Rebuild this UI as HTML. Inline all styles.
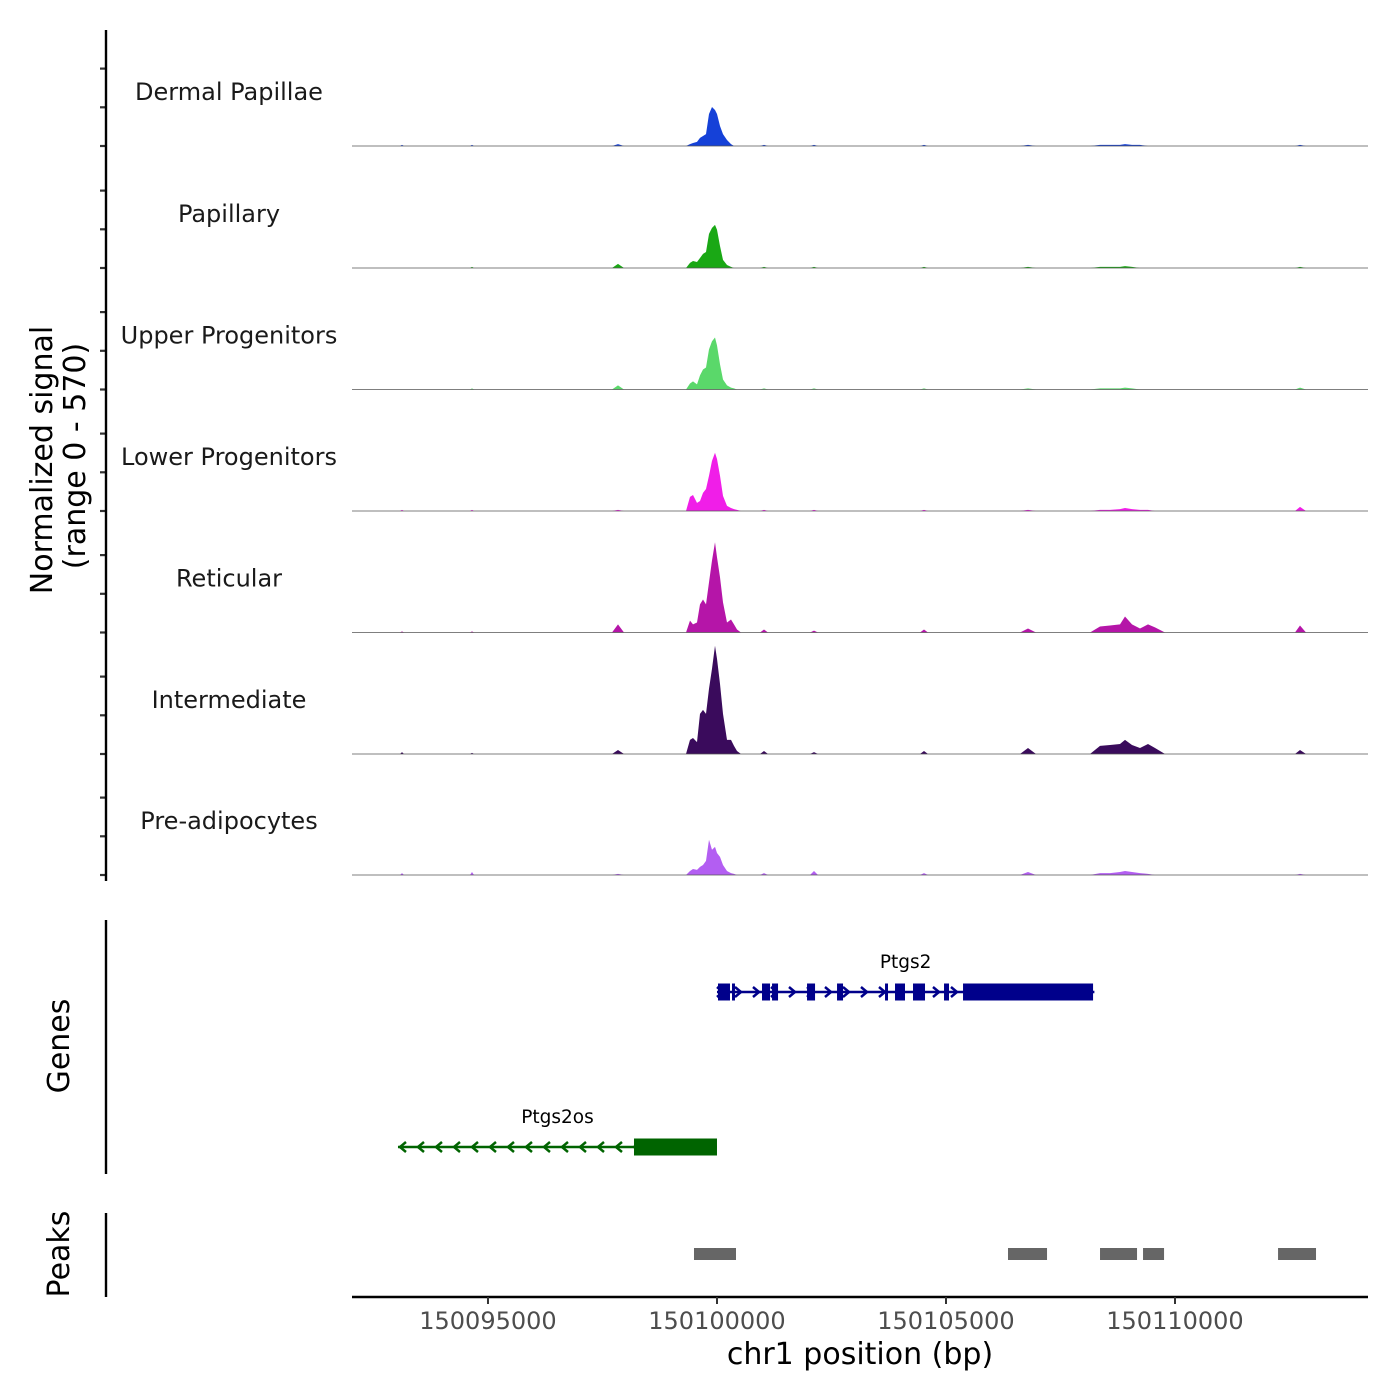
<!DOCTYPE html>
<html><head><meta charset="utf-8">
<style>
body{margin:0;background:#fff;}
svg{display:block;font-family:"DejaVu Sans","Liberation Sans",sans-serif;}
</style></head>
<body>
<svg id="chart" width="1400" height="1400" viewBox="0 0 1400 1400" xmlns="http://www.w3.org/2000/svg">
<rect width="1400" height="1400" fill="#fff"/>
<g id="tracks"></g>
<g id="genes"></g>
<g id="peaks"></g>
<g id="axes"></g>
</svg>
<script>
const trackNames = ["Dermal Papillae","Papillary","Upper Progenitors","Lower Progenitors","Reticular","Intermediate","Pre-adipocytes"];
const trackColors = ["#1541d8","#1aa815","#5ad86a","#f01ee8","#b515a8","#3a0b5c","#b35ef2"];
const positions = [150093080,150093122,150093166, 150094607,150094651,150094695, 150097708,150097839,150097970,
 150099324,150099411,150099476,150099564,150099629,150099695,150099760,150099826,150099891,150099957,150100001,150100066,150100131,150100219,150100306,150100372,150100437,150100524,
 150100939,150101027,150101114, 150102031,150102118,150102206, 150104433,150104520,150104607, 150106616,150106791,150106966,
 150108144,150108363,150108581,150108799,150108909,150109062,150109236,150109411,150109564,150109782,
 150112620,150112730,150112861,150113166];
const dermalValues = [0,5,0, 0,5,0, 0,9,0, 0,9,14,19,38,47,56,150,183,169,150,94,56,28,9,0,0,0, 0,5,0, 0,5,0, 0,5,0, 0,5,0, 0,5,5,5,9,5,5,0,0,0, 0,5,0,0];
const papillaryValues = [0,0,0, 0,5,0, 0,19,0, 0,24,33,28,47,66,75,160,188,202,179,103,38,14,5,0,0,0, 0,5,0, 0,5,0, 0,5,0, 0,5,0, 0,5,5,5,9,5,0,0,0,0, 0,5,0,0];
const upperValues = [0,0,0, 0,5,0, 0,19,0, 0,28,38,24,66,94,103,188,226,244,207,118,47,19,9,5,0,0, 0,5,0, 0,5,0, 0,5,0, 0,5,0, 0,5,5,5,9,5,0,0,0,0, 0,9,0,0];
const lowerValues = [0,5,0, 0,5,0, 0,5,0, 0,66,75,38,47,85,103,165,235,273,244,165,71,24,14,9,5,0, 0,5,0, 0,5,0, 0,5,0, 0,5,0, 0,5,5,9,14,9,5,5,0,0, 0,19,0,0];
const reticularValues = [0,5,0, 0,5,0, 0,38,0, 0,56,38,47,132,155,132,235,338,423,353,259,141,47,61,38,14,0, 0,14,0, 0,9,0, 0,14,0, 0,19,0, 0,28,33,38,75,38,19,38,24,0, 0,33,0,0];
const intermediateValues = [0,9,0, 0,5,0, 0,19,0, 0,66,75,56,188,207,188,306,400,508,447,329,188,66,66,38,14,0, 0,14,0, 0,9,0, 0,14,0, 0,28,0, 0,38,42,47,66,42,28,47,28,0, 0,19,0,0];
const preadipValues = [0,9,0, 0,14,0, 0,5,0, 0,19,28,24,38,47,66,165,118,132,103,85,47,19,9,5,0,0, 0,9,0, 0,19,0, 0,9,0, 0,14,0, 0,9,9,14,19,14,9,5,0,0, 0,5,0,0];
const seriesValues = [dermalValues,papillaryValues,upperValues,lowerValues,reticularValues,intermediateValues,preadipValues];
const xTicks = [150095000,150100000,150105000,150110000];
const ptgs2Exons = [[150100022,150100284],[150100328,150100393],[150100983,150101158],[150101202,150101333],[150101966,150102141],[150102621,150102752],[150103669,150103734],[150103887,150104105],[150104280,150104542],[150104957,150105066],[150105372,150108211]];
const ptgs2Span = [150100000,150108240];
const ptgs2osSpan = [150093035,150100000];
const ptgs2osExons = [[150098188,150100000]];
const peakStarts = [150099498,150106354,150108363,150109302,150112250];
const peakEnds = [150100415,150107206,150109171,150109761,150113079];

const NS="http://www.w3.org/2000/svg";
const X0=352,X1=1368,D0=150092031,D1=150114214;
const xs = v => X0 + (v-D0)/(D1-D0)*(X1-X0);
const TH=121.5, YMAX=570;
const baselines=[146,268,389.5,511,632.5,754,875];
const ys = (v,b) => b - v/YMAX*TH;
function el(tag,attrs,parent,text){const e=document.createElementNS(NS,tag);for(const k in attrs)e.setAttribute(k,attrs[k]);if(text!==undefined)e.textContent=text;parent.appendChild(e);return e;}

const gT=document.getElementById('tracks');
seriesValues.forEach((vals,i)=>{
  const b=baselines[i];
  let d="M"+xs(positions[0])+","+b;
  vals.forEach((v,j)=>{d+=" L"+xs(positions[j]).toFixed(1)+","+ys(v,b).toFixed(1);});
  d+=" L"+xs(positions[positions.length-1])+","+b+" Z";
  const p=el('path',{d:d,fill:trackColors[i]},gT);
  
  
  const l=el('line',{x1:X0,x2:X1,y1:b,y2:b,stroke:'#555','stroke-width':0.8},gT);
  
  
  const t=el('text',{x:229,y:b-46,'text-anchor':'middle','font-size':24,fill:'#1a1a1a'},gT,trackNames[i]);
  
  
  [0,38.7,77.4].forEach(o=>{
    const tk=el('line',{x1:100,x2:106,y1:b-o,y2:b-o,stroke:'#333','stroke-width':2.2},gT);
    
    
  });
});

const gA=document.getElementById('axes');
function ln(x1,y1,x2,y2,name,w,c){const l=el('line',{x1,y1,x2,y2,stroke:c||'#000','stroke-width':w||2.4},gA);return l;}
ln(106,30,106,881,'signal-y-axis');
ln(106,920,106,1174,'genes-y-axis');
ln(106,1213,106,1297,'peaks-y-axis');
ln(352,1297,1368,1297,'x-axis');
xTicks.forEach(v=>{
  const x=xs(v);
  ln(x,1297,x,1304,'x-tick',2,'#333');
  const t=el('text',{x:x,y:1329,'text-anchor':'middle','font-size':24,fill:'#4d4d4d'},gA,String(v));
  
  
});
function txt(x,y,s,size,name,rot){const a={x,y,'text-anchor':'middle','font-size':size,fill:'#000'};if(rot)a.transform='rotate(-90 '+x+' '+y+')';const t=el('text',a,gA,s);}
txt(860,1364,'chr1 position (bp)',30,'x-axis-title');
txt(52,460,'Normalized signal',30,'y-axis-title',true);
txt(85,456,'(range 0 - 570)',30,'y-axis-subtitle',true);
txt(69,1046,'Genes',30,'genes-axis-title',true);
txt(69,1254,'Peaks',30,'peaks-axis-title',true);

const gG=document.getElementById('genes');
function drawGene(span,exons,y,color,dir,label,name){
  const g=el('g',{},gG);
  el('line',{x1:xs(span[0]),x2:xs(span[1]),y1:y,y2:y,stroke:color,'stroke-width':2.5},g);
  exons.forEach(e=>{el('rect',{x:xs(e[0]),y:y-8.5,width:Math.max(2,xs(e[1])-xs(e[0])),height:17,fill:color},g);});
  for(let x=xs(span[0])+4;x<xs(span[1])-2;x+=18){
    el('path',{d:dir>0?`M${x-4},${y-5} L${x+2},${y} L${x-4},${y+5}`:`M${x+4},${y-5} L${x-2},${y} L${x+4},${y+5}`,stroke:color,fill:'none','stroke-width':2.5},g);
  }
  const t=el('text',{x:(xs(span[0])+xs(span[1]))/2,y:y-24,'text-anchor':'middle','font-size':18.5,fill:'#000'},g,label);
  
  
}
drawGene(ptgs2Span,ptgs2Exons,992,'#00008b',1,'Ptgs2','gene-ptgs2');
drawGene(ptgs2osSpan,ptgs2osExons,1147,'#006400',-1,'Ptgs2os','gene-ptgs2os');

const gP=document.getElementById('peaks');
peakStarts.forEach((s,i)=>{
  const r=el('rect',{x:xs(s),y:1248,width:xs(peakEnds[i])-xs(s),height:12,fill:'#666'},gP);
  
  
});
</script>
</body></html>
